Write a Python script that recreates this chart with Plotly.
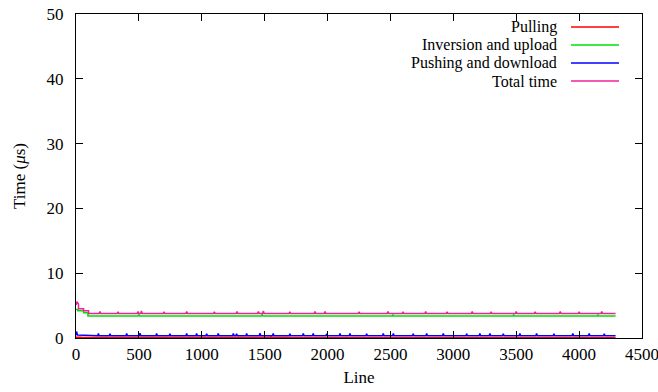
import plotly.graph_objects as go

# Per-line timings (microseconds). Each series is a stepped baseline
# (breakpoints + levels) plus a handful of short spikes (positions + peaks).
last_line = 4290

pull_steps_x = [0, 40, 120, 1500, 1700]
pull_steps_y = [0.12, 0.08, 0.05, 0.09, 0.05]
pull_spike_x = [15, 60, 1550, 1620]
pull_spike_y = [0.2, 0.15, 0.18, 0.15]

inv_steps_x = [0, 15, 60, 95]
inv_steps_y = [4.4, 4.2, 3.9, 3.4]
inv_spike_x = [500, 1480, 2520, 3480, 4150]
inv_spike_y = [3.6, 3.6, 3.55, 3.55, 3.55]

push_steps_x = [0, 20]
push_steps_y = [0.45, 0.35]
push_spike_x = [5, 178, 270, 403, 509, 641, 747, 880, 959, 1039, 1131, 1251,
                1277, 1357, 1463, 1568, 1701, 1807, 1886, 1993, 2099, 2178,
                2311, 2443, 2523, 2681, 2788, 2920, 3106, 3211, 3291, 3397,
                3529, 3662, 3800, 3950, 4080, 4200]
push_spike_y = [1.0, 0.7, 0.65, 0.7, 0.75, 0.7, 0.65, 0.7, 0.7, 0.65, 0.7, 0.7,
                0.65, 0.7, 0.75, 0.7, 0.65, 0.7, 0.7, 0.65, 0.7, 0.7,
                0.65, 0.7, 0.7, 0.65, 0.7, 0.7, 0.65, 0.7, 0.7, 0.65,
                0.7, 0.7, 0.65, 0.7, 0.7, 0.65]

total_steps_x = [0, 20, 60, 100]
total_steps_y = [5.2, 4.5, 4.2, 3.8]
total_spike_x = [8, 190, 334, 493, 520, 700, 880, 1100, 1280, 1450, 1490, 1700,
                 1900, 1980, 2250, 2480, 2600, 2780, 2950, 3150, 3300, 3500,
                 3650, 3850, 4000, 4180]
total_spike_y = [5.6, 4.1, 4.05, 4.1, 4.15, 4.05, 4.1, 4.05, 4.1, 4.1, 4.15, 4.05,
                 4.1, 4.1, 4.05, 4.1, 4.05, 4.1, 4.05, 4.1, 4.05, 4.1,
                 4.05, 4.1, 4.05, 4.1]


def level_at(steps_x, steps_y, x):
    val = steps_y[0]
    for sx, sy in zip(steps_x, steps_y):
        if x >= sx:
            val = sy
    return val


def build(steps_x, steps_y, spike_x, spike_y, half=6):
    pts = []
    for sx, sy in zip(steps_x, steps_y):
        if sx > 0:
            pts.append((sx - 0.01, level_at(steps_x, steps_y, sx - 1)))
        pts.append((sx, sy))
    for px, py in zip(spike_x, spike_y):
        lo, hi = max(px - half, 0), px + half
        pts.append((lo, level_at(steps_x, steps_y, lo)))
        pts.append((px, py))
        pts.append((hi, level_at(steps_x, steps_y, hi)))
    pts.append((last_line, level_at(steps_x, steps_y, last_line)))
    pts.sort(key=lambda p: p[0])
    return [p[0] for p in pts], [p[1] for p in pts]


series = [
    ("Pulling", "#ff0000", build(pull_steps_x, pull_steps_y, pull_spike_x, pull_spike_y)),
    ("Inversion and upload", "#00e000", build(inv_steps_x, inv_steps_y, inv_spike_x, inv_spike_y)),
    ("Pushing and download", "#0000ff", build(push_steps_x, push_steps_y, push_spike_x, push_spike_y)),
    ("Total time", "#f0209a", build(total_steps_x, total_steps_y, total_spike_x, total_spike_y)),
]

x_ticks = [0, 500, 1000, 1500, 2000, 2500, 3000, 3500, 4000, 4500]
y_ticks = [0, 10, 20, 30, 40, 50]

FONT = "Liberation Serif"
TXT = 17
fig = go.Figure()
for name, color, (xs, ys) in series:
    fig.add_trace(go.Scatter(x=xs, y=ys, mode="lines", name=name,
                             line=dict(color=color, width=1.5), showlegend=False))

# key in the top-right corner: right-aligned labels, line samples to their right
key_rows = [0.9599, 0.9043, 0.8488, 0.7932]
for (name, color, _), yk in zip(series, key_rows):
    fig.add_annotation(x=0.851, y=yk, xref="paper", yref="paper", text=name,
                       showarrow=False, xanchor="right", yanchor="middle",
                       borderpad=0,
                       font=dict(family=FONT, size=16, color="black"))
    fig.add_shape(type="line", xref="paper", yref="paper", x0=0.8746, x1=0.9594,
                  y0=yk, y1=yk, line=dict(color=color, width=1.3))

axis_common = dict(showgrid=False, zeroline=False, showline=True, linecolor="black",
                   linewidth=1.2, mirror="ticks", ticks="inside", ticklen=7,
                   tickcolor="black", tickwidth=1, automargin=False,
                   tickfont=dict(family=FONT, size=TXT, color="black"))
fig.update_xaxes(range=[0, 4500], tickvals=x_ticks, ticktext=[str(v) for v in x_ticks],
                 ticklabeloverflow="allow",
                 title=dict(text="Line", font=dict(family=FONT, size=TXT, color="black"),
                            standoff=8),
                 **axis_common)
fig.update_yaxes(range=[0, 50], tickvals=y_ticks, ticktext=[str(v) for v in y_ticks],
                 ticklabelstandoff=8,
                 title=dict(text="Time (<i>μ</i>s)",
                            font=dict(family=FONT, size=TXT, color="black"),
                            standoff=16),
                 **axis_common)
fig.update_layout(width=658, height=392,
                  margin=dict(l=76, r=16, t=14, b=54, autoexpand=False),
                  plot_bgcolor="white", paper_bgcolor="white",
                  font=dict(family=FONT, color="black"))
fig.write_html("out.html")
